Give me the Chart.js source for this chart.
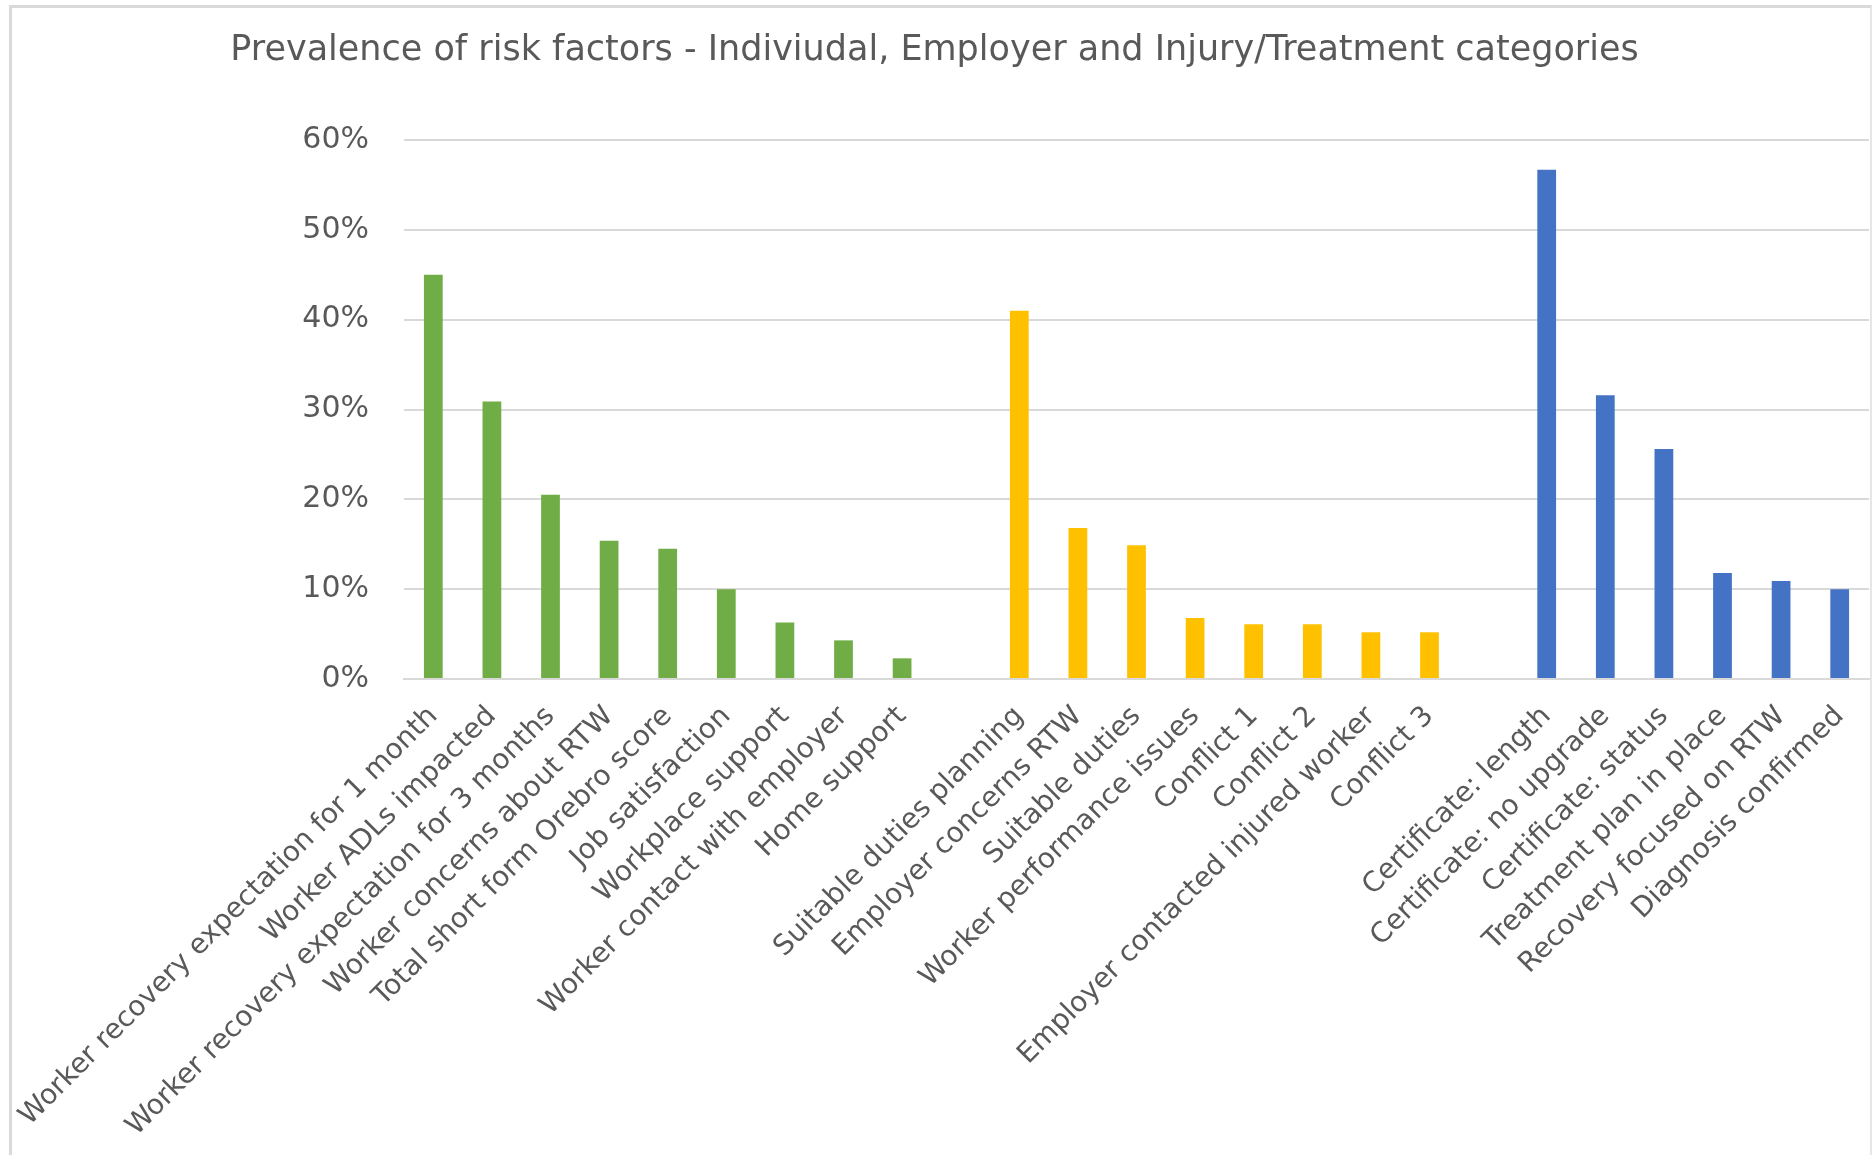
<!DOCTYPE html>
<html>
<head>
<meta charset="utf-8">
<script src="https://cdn.jsdelivr.net/npm/chart.js@4/dist/chart.umd.min.js"></script>
<style>
  html, body { margin: 0; padding: 0; background: #ffffff; }
  #wrap { position: relative; width: 1872px; height: 1155px; overflow: hidden; }
  #frame { position: absolute; left: 9px; top: 5px; width: 1858px; height: 1200px;
           border-left: 3px solid #d9d9d9; border-top: 3px solid #d9d9d9; border-right: 2px solid #e6e6e6; }
  canvas { position: absolute; left: 0; top: 0; }
</style>
</head>
<body>
<div id="wrap">
  <div id="frame"></div>
  <canvas id="c" width="1872" height="1155"></canvas>
</div>
<script>
const titleText = "Prevalence of risk factors - Indiviudal, Employer and Injury/Treatment categories";

const individualLabels = [
  "Worker recovery expectation for 1 month",
  "Worker ADLs impacted",
  "Worker recovery expectation for 3 months",
  "Worker concerns about RTW",
  "Total short form Orebro score",
  "Job satisfaction",
  "Workplace support",
  "Worker contact with employer",
  "Home support"
];
const individualValues = [45.0, 30.9, 20.5, 15.4, 14.5, 10.0, 6.3, 4.3, 2.3];

const employerLabels = [
  "Suitable duties planning",
  "Employer concerns RTW",
  "Suitable duties",
  "Worker performance issues",
  "Conflict 1",
  "Conflict 2",
  "Employer contacted injured worker",
  "Conflict 3"
];
const employerValues = [41.0, 16.8, 14.9, 6.8, 6.1, 6.1, 5.2, 5.2];

const injuryLabels = [
  "Certificate: length",
  "Certificate: no upgrade",
  "Certificate: status",
  "Treatment plan in place",
  "Recovery focused on RTW",
  "Diagnosis confirmed"
];
const injuryValues = [56.7, 31.6, 25.6, 11.8, 10.9, 10.0];

const yTicks = [0, 10, 20, 30, 40, 50, 60];

const colIndividual = "#70AD47";
const colEmployer = "#FFC000";
const colInjury = "#4472C4";

// Build combined category axis with one empty slot between groups
const labels = [...individualLabels, "", ...employerLabels, "", ...injuryLabels];
const values = [...individualValues, null, ...employerValues, null, ...injuryValues];
const colors = [
  ...individualLabels.map(() => colIndividual), "rgba(0,0,0,0)",
  ...employerLabels.map(() => colEmployer), "rgba(0,0,0,0)",
  ...injuryLabels.map(() => colInjury)
];

const textColor = "#595959";
const gridColor = "#d9d9d9";
const fontFamily = "'DejaVu Sans', sans-serif";

new Chart(document.getElementById("c"), {
  type: "bar",
  data: {
    labels: labels,
    datasets: [{
      data: values,
      backgroundColor: colors,
      borderWidth: 0,
      barPercentage: 0.32,
      categoryPercentage: 1.0
    }]
  },
  options: {
    responsive: false,
    animation: false,
    devicePixelRatio: 1,
    layout: { padding: { left: 0, right: 3, top: 0, bottom: 0 } },
    plugins: {
      legend: { display: false },
      tooltip: { enabled: false },
      title: {
        display: true,
        text: titleText,
        color: textColor,
        font: { family: fontFamily, size: 35, weight: "normal" },
        padding: { top: 30, bottom: 68 }
      }
    },
    scales: {
      x: {
        grid: { display: false, drawTicks: false },
        border: { display: true, color: gridColor, width: 2 },
        ticks: {
          color: textColor,
          font: { family: fontFamily, size: 28 },
          minRotation: 45,
          maxRotation: 45,
          autoSkip: false,
          padding: 21
        },
        afterFit: (s) => { s.height = 476; s.paddingLeft = 0; s.paddingRight = 0; }
      },
      y: {
        min: 0,
        max: 60,
        afterBuildTicks: (s) => { s.ticks = yTicks.map(v => ({ value: v })); },
        grid: { color: gridColor, lineWidth: 2, drawTicks: false },
        border: { display: false },
        ticks: {
          color: textColor,
          font: { family: fontFamily, size: 30 },
          padding: 35,
          callback: (v) => v + "%"
        },
        afterFit: (s) => { s.width = 404; s.paddingTop = 0; s.paddingBottom = 0; }
      }
    }
  }
});
</script>
</body>
</html>
